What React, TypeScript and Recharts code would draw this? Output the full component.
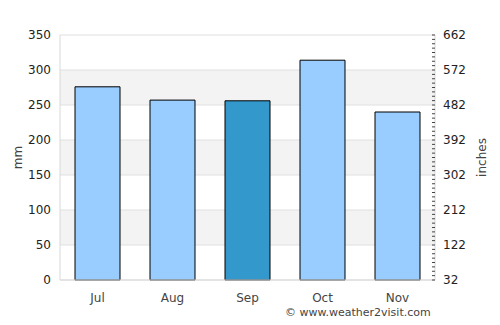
import React from 'react';
import { ComposedChart, Bar, Line, Cell, XAxis, YAxis, CartesianGrid } from 'recharts';

const months = ['Jul', 'Aug', 'Sep', 'Oct', 'Nov'];
const rainfallMm = [276, 257, 256, 314, 240];
const highlightMonth = 'Sep';
const mmTicks = [0, 50, 100, 150, 200, 250, 300, 350];
const rightTicks = [32, 122, 212, 302, 392, 482, 572, 662];

const FONT = '"DejaVu Sans", Verdana, sans-serif';
const TEXT = '#444';

const chartData = months.map((m, i) => ({ month: m, mm: rainfallMm[i], none: null }));

// minor ticks between each labelled right-hand tick
const rightAll: number[] = [];
rightTicks.forEach((t, i) => {
  rightAll.push(t);
  const next = rightTicks[i + 1];
  if (next === undefined) return;
  for (let k = 1; k < 8; k++) rightAll.push(t + ((next - t) * k) / 8);
});

function RightTick(props: any) {
  const { x, y, payload } = props;
  const major = rightTicks.includes(payload.value);
  return (
    <g>
      <line x1={x - 3} x2={x} y1={y} y2={y} stroke="#444" strokeWidth={1} />
      {major && (
        <text x={x + 8} y={y} dy={4} fontSize={12} fill="#222" fontFamily={FONT} textAnchor="start">
          {payload.value}
        </text>
      )}
    </g>
  );
}

export default function App() {
  return (
    <div style={{ position: 'absolute', left: 0, top: 0, width: 500, height: 325, background: '#fff' }}>
      <ComposedChart
        width={500}
        height={325}
        data={chartData}
        margin={{ top: 35, right: 0, bottom: 15, left: 0 }}
        barCategoryGap="20%"
      >
        <CartesianGrid
          yAxisId="left"
          vertical={false}
          stroke="#e0e0e0"
          horizontalFill={['#ffffff', '#f3f3f3']}
        />
        <XAxis
          dataKey="month"
          height={30}
          tickLine={false}
          axisLine={{ stroke: '#d8d8d8' }}
          tick={{ fontSize: 12, fill: TEXT, fontFamily: FONT }}
          tickMargin={7}
        />
        <YAxis
          yAxisId="left"
          width={60}
          domain={[0, 350]}
          ticks={mmTicks}
          interval={0}
          tickLine={false}
          axisLine={{ stroke: '#d8d8d8' }}
          tickSize={0}
          tickMargin={9}
          tick={{ fontSize: 12, fill: '#222', fontFamily: FONT }}
          label={{
            value: 'mm',
            angle: -90,
            position: 'insideLeft',
            offset: 18,
            style: { fontSize: 12, fill: TEXT, fontFamily: FONT, textAnchor: 'middle' },
          }}
        />
        <YAxis
          yAxisId="right"
          orientation="right"
          width={65}
          type="number"
          domain={[32, 662]}
          allowDataOverflow
          ticks={rightAll}
          interval={0}
          tickLine={false}
          tickSize={0}
          tickMargin={0}
          axisLine={{ stroke: '#d8d8d8' }}
          tick={<RightTick />}
          label={{
            value: 'inches',
            angle: -90,
            position: 'insideRight',
            offset: 18,
            style: { fontSize: 12, fill: TEXT, fontFamily: FONT, textAnchor: 'middle' },
          }}
        />
        <Bar yAxisId="left" dataKey="mm" stroke="#000" strokeWidth={1} isAnimationActive={false}>
          {chartData.map((d) => (
            <Cell key={d.month} fill={d.month === highlightMonth ? '#3399cc' : '#99ccff'} />
          ))}
        </Bar>
        <Line
          yAxisId="right"
          dataKey="none"
          stroke="none"
          dot={false}
          activeDot={false}
          legendType="none"
          isAnimationActive={false}
        />
      </ComposedChart>
      <div
        style={{
          position: 'absolute',
          left: 285,
          top: 306,
          fontSize: 11,
          fontFamily: FONT,
          color: TEXT,
          whiteSpace: 'nowrap',
        }}
      >
        © www.weather2visit.com
      </div>
    </div>
  );
}
